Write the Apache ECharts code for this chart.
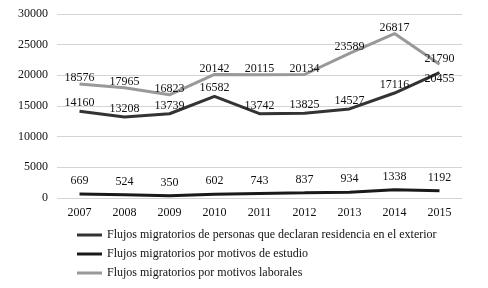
<!DOCTYPE html>
<html>
<head>
<meta charset="utf-8">
<script src="https://cdn.jsdelivr.net/npm/echarts@6/dist/echarts.min.js"></script>
<style>
  html, body { margin: 0; padding: 0; background: #fff; }
  #chart { width: 488px; height: 288px; }
</style>
</head>
<body>
<div id="chart"></div>
<script>
var years = ['2007', '2008', '2009', '2010', '2011', '2012', '2013', '2014', '2015'];
var residencia = [14160, 13208, 13739, 16582, 13742, 13825, 14527, 17116, 20455];
var estudio = [669, 524, 350, 602, 743, 837, 934, 1338, 1192];
var laborales = [18576, 17965, 16823, 20142, 20115, 20134, 23589, 26817, 21790];
var names = [
  'Flujos migratorios de personas que declaran residencia en el exterior',
  'Flujos migratorios por motivos de estudio',
  'Flujos migratorios por motivos laborales'
];

var fontFam = '"Liberation Serif", "DejaVu Serif", serif';

function labelCfg(dist) {
  return { show: true, position: 'top', distance: dist, color: '#111', fontFamily: fontFam, fontSize: 12 };
}

// 2015 label of the residence line sits under the point
var residenciaData = residencia.map(function (v, i) {
  if (i === 8) return { value: v, label: { position: 'bottom', distance: 0 } };
  return v;
});

function lineSeries(name, data, color, dist) {
  return {
    name: name,
    type: 'line',
    data: data,
    symbol: 'circle',
    symbolSize: 0.01,
    showSymbol: true,
    lineStyle: { color: color, width: 3 },
    itemStyle: { color: color },
    label: labelCfg(dist),
    labelLayout: { hideOverlap: false }
  };
}

var chart = echarts.init(document.getElementById('chart'));
var option = {
  animation: false,
  backgroundColor: '#fff',
  grid: { left: 57, right: 26, top: 14, bottom: 90 },
  legend: {
    orient: 'vertical',
    left: 77,
    top: 228,
    padding: 0,
    itemWidth: 25,
    itemHeight: 3,
    itemGap: 5,
    icon: 'rect',
    textStyle: { color: '#111', fontFamily: fontFam, fontSize: 12, lineHeight: 14 },
    data: names
  },
  xAxis: {
    type: 'category',
    data: years,
    axisLine: { show: false },
    axisTick: { show: false },
    axisLabel: { color: '#111', fontFamily: fontFam, fontSize: 12, margin: 9 }
  },
  yAxis: {
    type: 'value',
    min: 0,
    max: 30000,
    interval: 5000,
    axisLabel: { color: '#111', fontFamily: fontFam, fontSize: 12, margin: 9, formatter: function (v) { return String(v); } },
    splitLine: { lineStyle: { color: '#d4d4d4', width: 1 } }
  },
  series: [
    lineSeries(names[0], residenciaData, '#333', 2),
    lineSeries(names[1], estudio, '#1a1a1a', 7),
    lineSeries(names[2], laborales, '#999', 0)
  ]
};
chart.setOption(option);
</script>
</body>
</html>
